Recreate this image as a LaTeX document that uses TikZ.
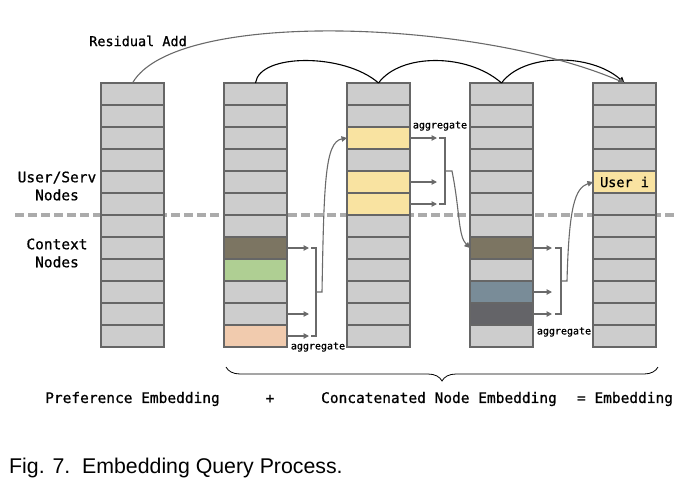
\documentclass[tikz,border=0pt]{standalone}
\usepackage{fontspec}
\setmainfont{Liberation Sans}
\setmonofont[FakeBold=0.8]{DejaVu Sans Mono}
\usepackage{tikz}
\usetikzlibrary{arrows.meta, positioning, calc, decorations.pathreplacing}

\definecolor{cellgray}{HTML}{CDCDCD}
\definecolor{celledge}{HTML}{666666}
\definecolor{linegray}{HTML}{6A6A6A}
\definecolor{dashgray}{HTML}{ABABAB}
\definecolor{selyellow}{HTML}{F9E3A1}
\definecolor{ctxbrown}{HTML}{7C7562}
\definecolor{ctxgreen}{HTML}{AFCF93}
\definecolor{ctxpeach}{HTML}{F1CBAE}
\definecolor{ctxblue}{HTML}{798C98}
\definecolor{ctxdark}{HTML}{646468}

\tikzset{
  cell/.style={draw=celledge, fill=cellgray, line width=1.2pt, minimum width=63pt,
    minimum height=22pt, inner sep=0pt, outer sep=0pt},
  flow/.style={draw=linegray, line width=1.1pt, -{Triangle[length=5.5pt, width=5.5pt]}},
  bracket/.style={draw=linegray, line width=1.1pt},
  hop/.style={draw=black, line width=1.1pt},
  lbl/.style={font=\ttfamily\fontsize{14.5}{18}\selectfont, align=center, inner sep=1pt},
  agg/.style={font=\ttfamily\fontsize{10}{12}\selectfont, inner sep=1pt},
}

\begin{document}
\begin{tikzpicture}[x=1pt, y=-1pt,
    cell 2-8/.style={fill=ctxbrown},
    cell 2-9/.style={fill=ctxgreen},
    cell 2-12/.style={fill=ctxpeach},
    cell 3-3/.style={fill=selyellow},
    cell 3-5/.style={fill=selyellow},
    cell 3-6/.style={fill=selyellow},
    cell 4-8/.style={fill=ctxbrown},
    cell 4-10/.style={fill=ctxblue},
    cell 4-11/.style={fill=ctxdark},
    cell 5-5/.style={fill=selyellow}]
    \useasboundingbox (0,0) rectangle (699,493);

    % border between user/serv and context nodes
    \draw[dashgray, line width=3.2pt, dash pattern=on 9pt off 4pt] (15,215) -- (677,215);

    % embedding columns
    \foreach \c in {1,...,5}
      \foreach \r in {1,...,12}
        \node[cell, cell \c-\r/.try] (c\c-\r) at ({132.5+123*(\c-1)}, {72+22*\r}) {};
    \node[lbl, font=\ttfamily\fontsize{13.5}{15}\selectfont] (useri) at (c5-5) {User i};

    % side labels
    \node[lbl] (usrlbl) at (57,186) {User/Serv\\Nodes};
    \node[lbl] (ctxlbl) at (57,253) {Context\\Nodes};

    % hops along the top
    \draw[hop] (c2-1.north) .. controls +(4,-30) and +(-34,-30) .. (c3-1.north);
    \draw[hop] (c3-1.north) .. controls +(22,-30) and +(-34,-30) .. (c4-1.north);
    \draw[hop, -{Triangle[length=6pt, width=6pt]}] (c4-1.north) .. controls +(22,-30) and +(-34,-30) .. (c5-1.north);

    % residual add
    \draw[flow] (c1-1.north) .. controls +(43,-75) and +(-145,-63) .. (c5-1.north);
    \node[lbl, font=\ttfamily\fontsize{13.5}{15}\selectfont] (resadd) at (138,41) {Residual Add};

    % aggregate from column 2
    \foreach \r in {8,11,12}
      \draw[flow] (c2-\r.east) -- ++(22,0);
    \draw[bracket] ($(c2-8.east)+(24,0)$) -- ++(5,0) |- ($(c2-12.east)+(24,0)$);
    \coordinate (m2) at ($(c2-8.east)!0.5!(c2-12.east)+(29,0)$);
    \draw[flow] (m2) -- ++(6,0) .. controls +(2,-110) and +(-22,4) .. (c3-3.west);
    \node[agg] (agg2) at (318,347) {aggregate};

    % aggregate from column 3
    \foreach \r in {3,5,6}
      \draw[flow] (c3-\r.east) -- ++(27,0);
    \draw[bracket] ($(c3-3.east)+(29,0)$) -- ++(6,0) |- ($(c3-6.east)+(29,0)$);
    \coordinate (m3) at ($(c3-3.east)!0.5!(c3-6.east)+(35,0)$);
    \draw[flow] (m3) -- ++(7,0) .. controls +(8,40) and +(-12,-12) .. (c4-8.west);
    \node[agg] (agg3) at (440,126) {aggregate};

    % aggregate from column 4
    \foreach \r in {8,10,11}
      \draw[flow] (c4-\r.east) -- ++(19,0);
    \draw[bracket] ($(c4-8.east)+(22,0)$) -- ++(6,0) |- ($(c4-11.east)+(22,0)$);
    \coordinate (m4) at ($(c4-8.east)!0.5!(c4-11.east)+(28,0)$);
    \draw[flow] (m4) -- ++(6,0) .. controls +(2,-75) and +(-18,6) .. (c5-5.west);
    \node[agg] (agg4) at (564,332) {aggregate};

    % bottom brace and sum
    \draw[decorate, decoration={brace, mirror, amplitude=14pt}, line width=0.8pt]
      ($(c2-12.south west)+(2,20)$) -- ($(c5-12.south east)+(2,20)$);
    \node[lbl] (pref) at (132.5,399) {Preference Embedding};
    \node[lbl] (plus) at (270,399) {+};
    \node[lbl] (concat) at (439,399) {Concatenated Node Embedding};
    \node[lbl] (result) at (625,399) {= Embedding};

    % caption
    \node[anchor=west, font=\fontsize{21.3}{25}\selectfont, inner sep=0pt] (caption) at (9,468)
      {Fig. 7.\ \ Embedding Query Process.};
\end{tikzpicture}
\end{document}
